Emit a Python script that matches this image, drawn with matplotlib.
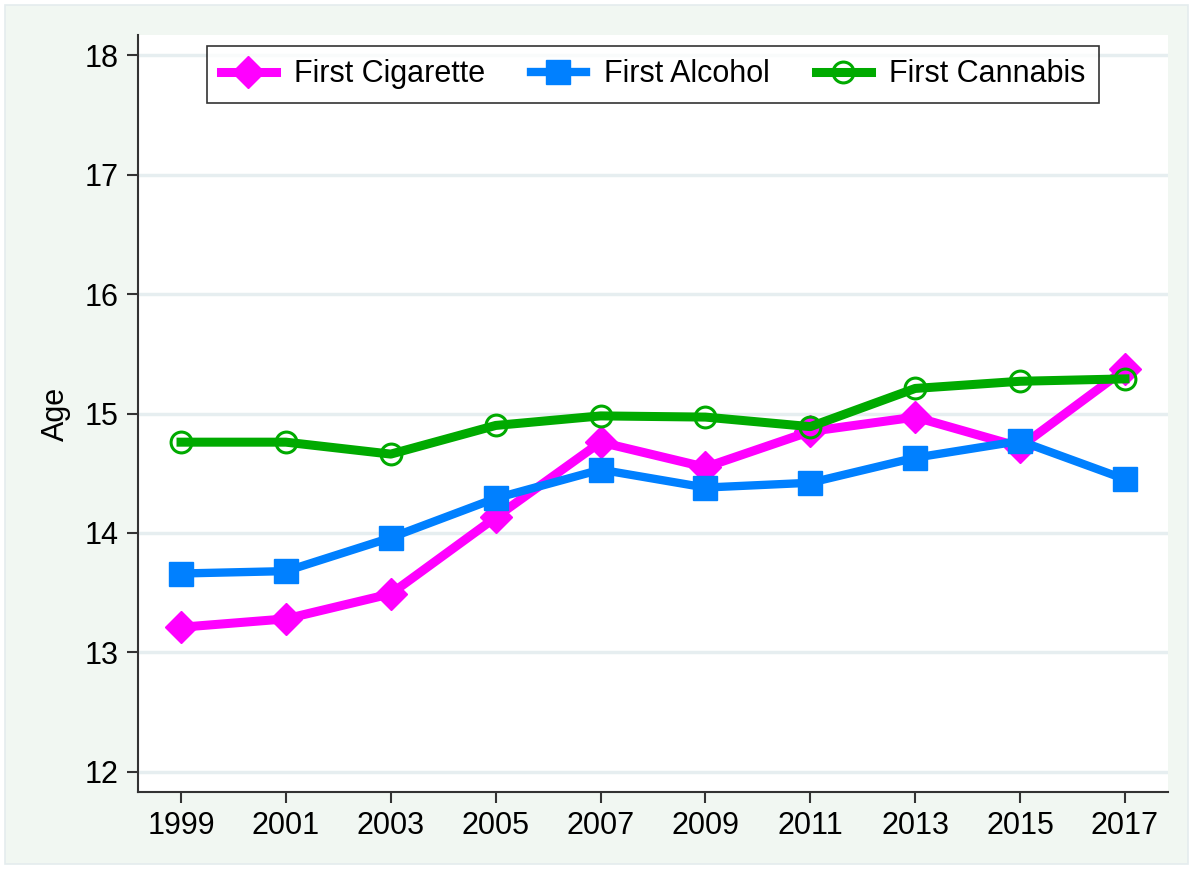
import matplotlib as mpl
mpl.use('Agg')
import matplotlib.pyplot as plt
from matplotlib.patches import Rectangle

mpl.rcParams['font.family'] = ['Liberation Sans', 'DejaVu Sans']
mpl.rcParams['font.size'] = 22

years = [1999, 2001, 2003, 2005, 2007, 2009, 2011, 2013, 2015, 2017]
cigarette = [13.21, 13.28, 13.49, 14.13, 14.76, 14.55, 14.85, 14.97, 14.72, 15.37]
alcohol = [13.66, 13.68, 13.96, 14.29, 14.53, 14.38, 14.42, 14.63, 14.77, 14.45]
cannabis = [14.76, 14.76, 14.66, 14.90, 14.98, 14.97, 14.89, 15.21, 15.27, 15.29]
yticks = [12, 13, 14, 15, 16, 17, 18]

fig = plt.figure(figsize=(11.93, 8.69), dpi=100)
fig.patch.set_facecolor('white')
fig.patches.append(Rectangle((0.004, 0.006), 0.992, 0.988, transform=fig.transFigure,
                             facecolor='#F1F7F2', edgecolor='#E4ECEE', lw=1.2, zorder=-10))

ax = fig.add_axes([0.1157, 0.0886, 0.8633, 0.8711])
ax.set_zorder(1)
ax.set_facecolor('white')

ax.plot(years, cigarette, color='#FF00FF', lw=6.5, marker='D', ms=16.5,
        label='First Cigarette', zorder=3)
ax.plot(years, alcohol, color='#0080FF', lw=6, marker='s', ms=17.5,
        label='First Alcohol', zorder=3)
ax.plot(years, cannabis, color='#00AA00', lw=6.5, marker='o', ms=15,
        mfc='none', mec='#00AA00', mew=2.2, label='First Cannabis', zorder=4)

ax.set_xlim(1998.18, 2017.82)
ax.set_ylim(11.83, 18.17)
ax.set_xticks(years)
ax.set_yticks(yticks)
ax.grid(axis='y', color='#E6EEF0', lw=2.5, zorder=0)
ax.set_axisbelow(True)

for s in ['top', 'right']:
    ax.spines[s].set_visible(False)
for s in ['left', 'bottom']:
    ax.spines[s].set_color('#333333')
    ax.spines[s].set_linewidth(1.5)
ax.tick_params(direction='out', length=8, width=1.5, color='#333333', pad=6, labelsize=22)

ax.set_ylabel('Age', fontsize=22, labelpad=10)

leg = ax.legend(loc='upper center', bbox_to_anchor=(0.5, 1.0), ncol=3, frameon=True,
                fancybox=False, edgecolor='black', fontsize=22, handlelength=1.8,
                handletextpad=0.6, columnspacing=1.5, borderaxespad=0.35,
                borderpad=0.45)
leg.get_frame().set_linewidth(1.2)

plt.savefig('out.png', dpi=100)
plt.close(fig)
